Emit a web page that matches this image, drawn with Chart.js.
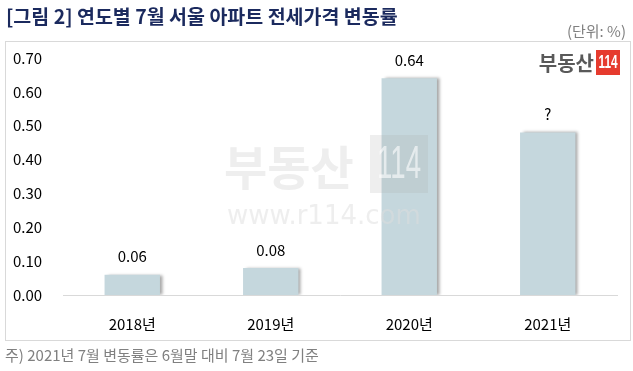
<!DOCTYPE html>
<html>
<head>
<meta charset="utf-8">
<script src="https://cdn.jsdelivr.net/npm/chart.js@4"></script>
<style>
html,body{margin:0;padding:0;background:#fff;}
#wrap{width:633px;height:371px;position:relative;}
</style>
</head>
<body>
<div id="wrap"><canvas id="c" width="633" height="371"></canvas></div>
<script>
const categories = ['2018년', '2019년', '2020년', '2021년'];
const values = [0.06, 0.08, 0.64, 0.48];
const valueLabels = ['0.06', '0.08', '0.64', '?'];
const yTicks = [0, 0.1, 0.2, 0.3, 0.4, 0.5, 0.6, 0.7];
const titleText = '[그림 2] 연도별 7월 서울 아파트 전세가격 변동률';
const unitText = '(단위: %)';
const noteText = '주) 2021년 7월 변동률은 6월말 대비 7월 23일 기준';

const KR = '"Noto Sans CJK KR", "Noto Sans", sans-serif';

function narrowText(ctx, text, cx, cy, font, sx) {
  ctx.save();
  ctx.translate(cx, cy);
  ctx.scale(sx, 1);
  ctx.font = font;
  ctx.textAlign = 'center';
  ctx.textBaseline = 'middle';
  ctx.fillText(text, 0, 0);
  ctx.restore();
}

const decor = {
  id: 'decor',
  beforeDraw(chart) {
    const ctx = chart.ctx;
    ctx.save();
    ctx.fillStyle = '#fff';
    ctx.fillRect(0, 0, chart.width, chart.height);
    // title
    ctx.fillStyle = '#1b2a5e';
    ctx.font = 'bold 19.5px ' + KR;
    ctx.textBaseline = 'middle';
    ctx.textAlign = 'left';
    ctx.fillText(titleText, 6, 17);
    // unit
    ctx.fillStyle = '#808080';
    ctx.font = '15px ' + KR;
    ctx.textAlign = 'right';
    ctx.fillText(unitText, 626, 31);
    // box
    ctx.strokeStyle = '#d9d9d9';
    ctx.lineWidth = 1;
    ctx.strokeRect(5.5, 41.5, 625, 299);
    // footnote
    ctx.fillStyle = '#808080';
    ctx.font = '15px ' + KR;
    ctx.textAlign = 'left';
    ctx.fillText(noteText, 5, 355);
    // logo
    ctx.fillStyle = '#595959';
    ctx.font = 'bold 20px ' + KR;
    ctx.textAlign = 'right';
    ctx.fillText('부동산', 594, 63);
    ctx.fillStyle = '#e63b2e';
    ctx.fillRect(596, 50, 24, 25);
    ctx.fillStyle = '#fff';
    narrowText(ctx, '114', 608, 63, 'bold 19px "Liberation Sans", sans-serif', 0.62);
    ctx.restore();
  },
  beforeDatasetsDraw(chart) {
    const ctx = chart.ctx;
    ctx.save();
    ctx.shadowColor = 'rgba(0,0,0,0.35)';
    ctx.shadowBlur = 3;
    ctx.shadowOffsetX = 3;
    ctx.shadowOffsetY = 0;
  },
  afterDatasetsDraw(chart) {
    const ctx = chart.ctx;
    ctx.restore();
    ctx.save();
    // watermark (semi-transparent, over bars)
    ctx.fillStyle = 'rgba(222,222,222,0.5)';
    ctx.font = 'bold 47px ' + KR;
    ctx.textAlign = 'left';
    ctx.textBaseline = 'middle';
    ctx.fillText('부동산', 224, 167);
    ctx.font = '26px "DejaVu Sans", sans-serif';
    ctx.fillText('www.r114.com', 227, 217);
    ctx.fillStyle = 'rgba(170,170,170,0.2)';
    ctx.fillRect(370, 135, 58, 58);
    ctx.fillStyle = 'rgba(255,255,255,0.6)';
    narrowText(ctx, '114', 399, 165, '46px "Liberation Sans", sans-serif', 0.6);
    // value labels
    const meta = chart.getDatasetMeta(0);
    ctx.fillStyle = '#000';
    ctx.font = '15px ' + KR;
    ctx.textAlign = 'center';
    ctx.textBaseline = 'middle';
    meta.data.forEach((bar, i) => {
      ctx.fillText(valueLabels[i], bar.x, bar.y - 18);
    });
    ctx.restore();
  }
};

new Chart(document.getElementById('c'), {
  type: 'bar',
  data: {
    labels: categories,
    datasets: [{
      data: values,
      backgroundColor: '#c5d7dd',
      borderWidth: 0,
      categoryPercentage: 1,
      barPercentage: 0.4
    }]
  },
  options: {
    responsive: false,
    animation: false,
    events: [],
    layout: { padding: { left: 13, top: 58, right: 16, bottom: 36 } },
    plugins: { legend: { display: false }, tooltip: { enabled: false }, title: { display: false } },
    scales: {
      x: {
        grid: { display: false },
        border: { display: true, color: '#d9d9d9', width: 1 },
        ticks: { color: '#000', font: { family: KR, size: 15 }, padding: 12 },
        afterFit(s) { s.height = 40; }
      },
      y: {
        min: 0, max: 0.7,
        afterBuildTicks(s) { s.ticks = yTicks.map(v => ({ value: v })); },
        grid: { display: false },
        border: { display: false },
        ticks: {
          color: '#000',
          font: { family: KR, size: 15 },
          crossAlign: 'far',
          padding: 0,
          callback: v => v.toFixed(2)
        },
        afterFit(s) { s.width = 50; }
      }
    }
  },
  plugins: [decor]
});
</script>
</body>
</html>
